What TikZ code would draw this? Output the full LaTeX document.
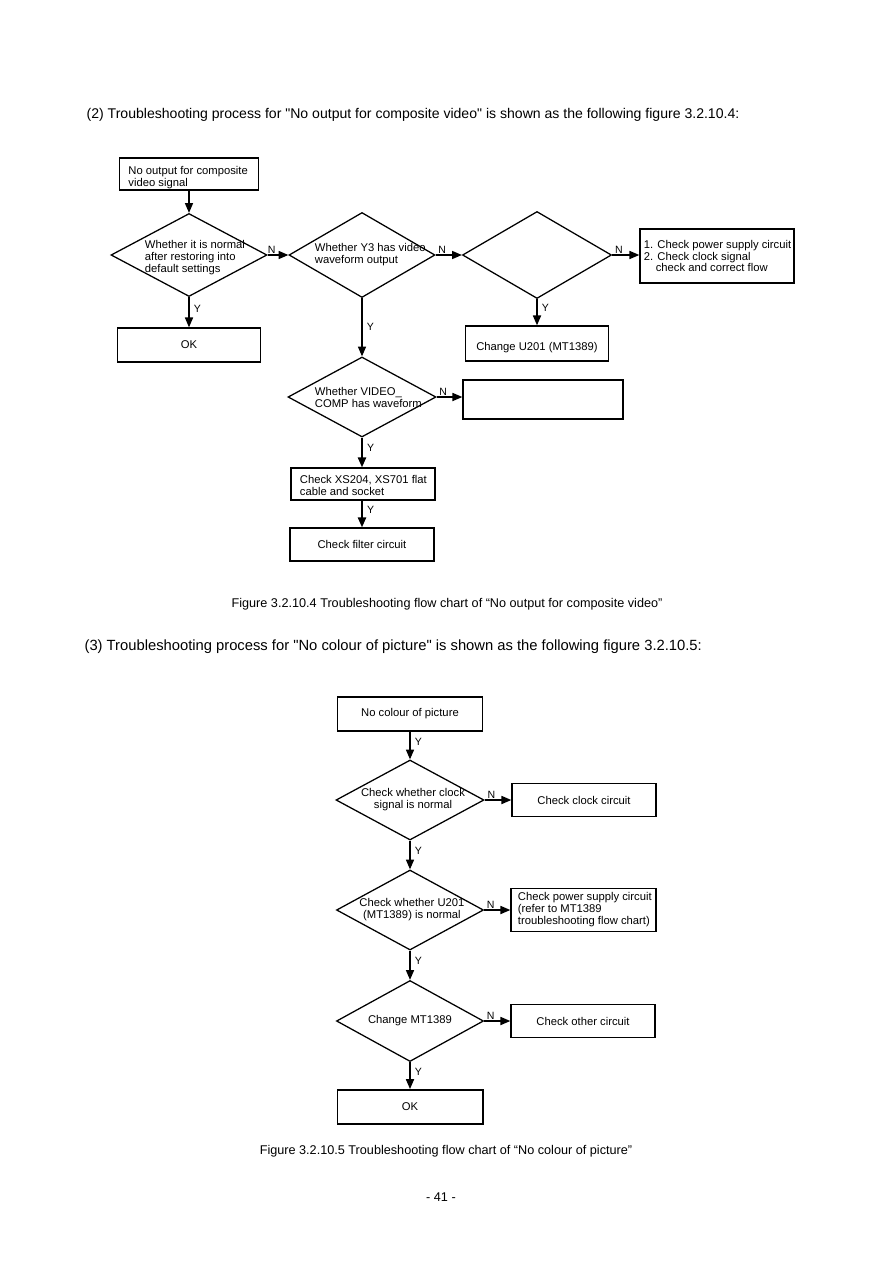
\documentclass[tikz,border=0pt]{standalone}
\usepackage{fontspec}
\setmainfont{Liberation Sans}
\usetikzlibrary{positioning,arrows.meta,shapes.geometric}

\begin{document}
\begin{tikzpicture}[x=0.025cm,y=-0.025cm,>={Triangle[length=7pt,width=5.8pt]},
  line width=0.85pt,
  box/.style={draw,line width=1pt,inner sep=0pt,font=\fontsize{8}{8.5}\selectfont,align=center},
  dia/.style={draw,diamond,line width=0.9pt,inner sep=0pt},
  txt/.style={inner sep=0pt,font=\fontsize{8}{8.5}\selectfont,align=left},
  lbl/.style={inner sep=1pt,font=\fontsize{7.5}{8}\selectfont},
  ttl/.style={inner sep=0pt,font=\fontsize{10}{12}\selectfont},
  captext/.style={inner sep=0pt,font=\fontsize{9}{10}\selectfont}]
  \useasboundingbox (0,0) rectangle (894,1263);

  % figure 3.2.10.4
  \node[ttl,anchor=west] (head1) at (86,115) {(2) Troubleshooting process for \textquotedbl No output for composite video\textquotedbl{} is shown as the following figure 3.2.10.4:};

  \node[box,minimum width=3.475cm,minimum height=0.8cm] (start) at (189,174) {};
  \node[txt,right=0.225cm of start.west,yshift=-0.09cm] (startt) {No output for composite\\video signal};
  \node[dia,minimum width=3.9cm,minimum height=2.075cm] (d1) at (189,255) {};
  \node[txt,right=0.85cm of d1.west,yshift=-0.07cm] (d1t) {Whether it is normal\\after restoring into\\default settings};
  \node[dia,minimum width=3.65cm,minimum height=2.125cm] (d2) at (362,255) {};
  \node[txt,right=0.65cm of d2.west] (d2t) {Whether Y3 has video\\waveform output};
  \node[dia,minimum width=3.725cm,minimum height=2.175cm] (d3) at (537,255) {};
  \node[box,minimum width=3.85cm,minimum height=1.35cm] (fix) at (717,256) {};
  \node[txt,right=0.1cm of fix.west] (fixt) {1. Check power supply circuit\\2. Check clock signal\\\hspace*{8.5pt}check and correct flow};
  \node[box,minimum width=3.575cm,minimum height=0.875cm,text height=0.4cm] (u201) at (537,343.5) {Change U201 (MT1389)};
  \node[box,minimum width=3.575cm,minimum height=0.85cm] (ok1) at (189,345) {OK};
  \node[dia,minimum width=3.7cm,minimum height=2.0cm] (d4) at (362,397) {};
  \node[txt,right=0.675cm of d4.west] (d4t) {Whether VIDEO\_\\COMP has waveform};
  \node[box,minimum width=4.0cm,minimum height=0.975cm] (blank) at (543,399.5) {};
  \node[box,minimum width=3.6cm,minimum height=0.8cm] (xs) at (363,484) {};
  \node[txt,right=0.225cm of xs.west,yshift=-0.03cm] (xst) {Check XS204, XS701 flat\\cable and socket};
  \node[box,minimum width=3.6cm,minimum height=0.825cm] (filter) at (362,544.5) {Check filter circuit};

  \draw[->] (start.south) -- (start.south |- d1.north);
  \draw[->] (d1.east) -- node[lbl,pos=0.2,above] {N} (d2.west);
  \draw[->] (d2.east) -- node[lbl,pos=0.25,above] {N} (d3.west);
  \draw[->] (d3.east) -- node[lbl,pos=0.25,above] {N} (d3.east -| fix.west);
  \draw[->] (d3.south) -- node[lbl,pos=0.35,right=2pt] {Y} (d3.south |- u201.north);
  \draw[->] (d1.south) -- node[lbl,pos=0.4,right=2pt] {Y} (d1.south |- ok1.north);
  \draw[->] (d2.south) -- node[lbl,pos=0.5,right=2pt] {Y} (d4.north);
  \draw[->] (d4.east) -- node[lbl,pos=0.25,above] {N} (d4.east -| blank.west);
  \draw[->,line width=1.3pt] (d4.south) -- node[lbl,pos=0.33,right=2pt] {Y} (d4.south |- xs.north);
  \draw[->,line width=1.3pt] (d4.south |- xs.south) -- node[lbl,pos=0.33,right=2pt] {Y} (d4.south |- filter.north);

  \node[captext] (cap1) at (447,604) {Figure 3.2.10.4 Troubleshooting flow chart of “No output for composite video”};

  % figure 3.2.10.5
  \node[ttl,anchor=west,font=\fontsize{10.5}{12}\selectfont] (head2) at (84,647) {(3) Troubleshooting process for \textquotedbl No colour of picture\textquotedbl{} is shown as the following figure 3.2.10.5:};

  \node[box,minimum width=3.625cm,minimum height=0.85cm] (nc) at (410,714) {No colour of picture};
  \node[dia,minimum width=3.7cm,minimum height=2.0cm] (dA) at (410,800) {};
  \node[txt,align=center,xshift=0.075cm] (dAt) at (dA) {Check whether clock\\signal is normal};
  \node[box,minimum width=3.6cm,minimum height=0.825cm] (clk) at (584,800) {Check clock circuit};
  \node[dia,minimum width=3.675cm,minimum height=2.0cm] (dB) at (410,910) {};
  \node[txt,align=center,xshift=0.05cm] (dBt) at (dB) {Check whether U201\\(MT1389) is normal};
  \node[box,minimum width=3.625cm,minimum height=1.075cm] (pwr) at (583.5,910) {};
  \node[txt,right=0.175cm of pwr.west] (pwrt) {Check power supply circuit\\(refer to MT1389\\troubleshooting flow chart)};
  \node[dia,minimum width=3.675cm,minimum height=2.025cm] (dC) at (410,1021) {};
  \node[txt] (dCt) at (dC) {Change MT1389};
  \node[box,minimum width=3.6cm,minimum height=0.825cm] (oth) at (583,1021) {Check other circuit};
  \node[box,line width=1.4pt,minimum width=3.625cm,minimum height=0.85cm] (ok2) at (410,1107) {OK};

  \draw[->] (nc.south) -- node[lbl,pos=0.35,right=2pt] {Y} (dA.north);
  \draw[->] (dA.east) -- node[lbl,pos=0.25,above] {N} (dA.east -| clk.west);
  \draw[->] (dA.south) -- node[lbl,pos=0.35,right=2pt] {Y} (dB.north);
  \draw[->] (dB.east) -- node[lbl,pos=0.25,above] {N} (dB.east -| pwr.west);
  \draw[->] (dB.south) -- node[lbl,pos=0.35,right=2pt] {Y} (dC.north);
  \draw[->] (dC.east) -- node[lbl,pos=0.25,above] {N} (dC.east -| oth.west);
  \draw[->] (dC.south) -- node[lbl,pos=0.35,right=2pt] {Y} (ok2.north);

  \node[captext] (cap2) at (446,1151) {Figure 3.2.10.5 Troubleshooting flow chart of “No colour of picture”};
  \node[captext] (page) at (441,1197) {- 41 -};
\end{tikzpicture}
\end{document}
